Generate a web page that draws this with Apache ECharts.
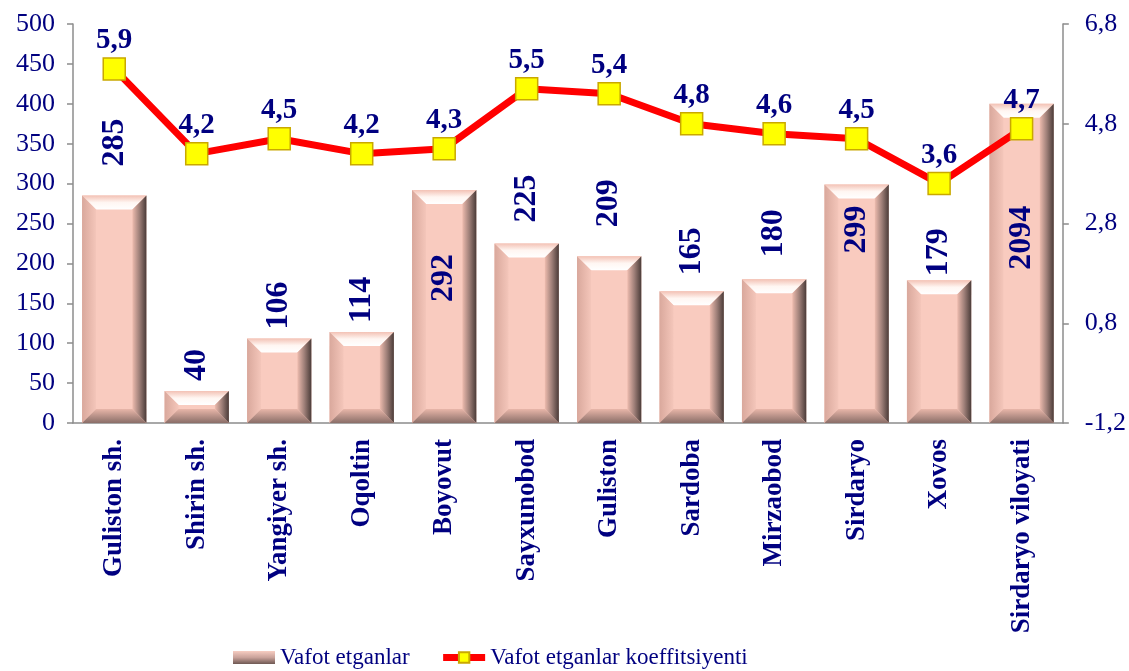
<!DOCTYPE html>
<html>
<head>
<meta charset="utf-8">
<script src="https://cdn.jsdelivr.net/npm/echarts@6/dist/echarts.min.js"></script>
<style>
  html, body { margin: 0; padding: 0; background: #fff; }
  #chart { width: 1129px; height: 671px; }
</style>
</head>
<body>
<div id="chart"></div>
<script>
    // data
    const categories = ['Guliston sh.', 'Shirin sh.', 'Yangiyer sh.', 'Oqoltin', 'Boyovut', 'Sayxunobod',
        'Guliston', 'Sardoba', 'Mirzaobod', 'Sirdaryo', 'Xovos', 'Sirdaryo viloyati'];
    // printed labels
    const deaths = [285, 40, 106, 114, 292, 225, 209, 165, 180, 299, 179, 2094];
    // heights the bars are drawn at (last one is drawn at 400 in the source)
    const barHeights = [285, 40, 106, 114, 292, 225, 209, 165, 180, 299, 179, 400];
    const coef = [5.9, 4.2, 4.5, 4.2, 4.3, 5.5, 5.4, 4.8, 4.6, 4.5, 3.6, 4.7];
    const leftTicks = {min: 0, max: 500, interval: 50};
    const rightTicks = {min: -1.2, max: 6.8, interval: 2};

    const NAVY = '#000080';
    const FONT = "'Liberation Serif', 'Times New Roman', serif";

    // where each bar label sits: [inside?, distance]
    const labelPlace = [[false, 29], [false, 10], [false, 9], [false, 9], [true, 64], [false, 21],
        [false, 29], [false, 16], [false, 22], [true, 21], [false, 4], [true, 102]];

    const comma = v => Number(v).toFixed(1).replace('.', ',');
    const lg = (x2, y2, stops) => new echarts.graphic.LinearGradient(0, 0, x2, y2,
        stops.map((c, i) => ({offset: i / (stops.length - 1), color: c})));

    function renderBar(params, api) {
        const top = api.coord([api.value(0), api.value(1)]);
        const base = api.coord([api.value(0), 0]);
        const w = api.size([1, 0])[0] * 0.78;
        const x0 = top[0] - w / 2, x1 = top[0] + w / 2, y0 = top[1], y1 = base[1];
        const b = Math.min(14, (y1 - y0) / 2, w / 2);
        return {
            type: 'group',
            children: [
                {type: 'rect', shape: {x: x0, y: y0, width: w, height: y1 - y0}, style: {fill: '#F9CBBF'}},
                {type: 'polygon', shape: {points: [[x0, y0], [x1, y0], [x1 - b, y0 + b], [x0 + b, y0 + b]]},
                    style: {fill: lg(0, 1, ['#F3C2B5', '#FFF6F2', '#FFFFFF'])}},
                {type: 'polygon', shape: {points: [[x0, y0], [x0 + b, y0 + b], [x0 + b, y1 - b], [x0, y1]]},
                    style: {fill: lg(1, 0, ['#D9A89C', '#F4C6BA'])}},
                {type: 'polygon', shape: {points: [[x1, y0], [x1, y1], [x1 - b, y1 - b], [x1 - b, y0 + b]]},
                    style: {fill: lg(1, 0, ['#EDBBAE', '#9E7F78', '#4A3B38'])}},
                {type: 'polygon', shape: {points: [[x0, y1], [x0 + b, y1 - b], [x1 - b, y1 - b], [x1, y1]]},
                    style: {fill: lg(0, 1, ['#E8B6A9', '#8A6E68'])}}
            ]
        };
    }

    const barData = barHeights.map((v, i) => {
        const inside = labelPlace[i][0];
        return {
            value: v,
            label: {
                position: inside ? 'insideTop' : 'top',
                distance: labelPlace[i][1],
                align: inside ? 'right' : 'left',
                verticalAlign: 'middle'
            }
        };
    });

    const option = {
        animation: false,
        textStyle: {fontFamily: FONT},
        grid: {left: 73, right: 65, top: 24, bottom: 248},
        legend: {
            left: 228, top: 641,
            itemWidth: 42, itemHeight: 13, itemGap: 30,
            textStyle: {color: NAVY, fontSize: 23, fontFamily: FONT},
            data: [
                {name: 'Vafot etganlar', icon: 'rect',
                    itemStyle: {color: lg(0, 1, ['#F7CDC2', '#C9A29A', '#6E5853'])}},
                {name: 'Vafot etganlar koeffitsiyenti',
                    lineStyle: {color: '#FF0000', width: 7}}
            ]
        },
        xAxis: {
            type: 'category',
            data: categories,
            axisLine: {lineStyle: {color: '#8c8c8c', width: 1.5}},
            axisTick: {length: 7, lineStyle: {color: '#8c8c8c', width: 1.5}},
            axisLabel: {
                rotate: 90, interval: 0, margin: 16,
                color: NAVY, fontSize: 27, fontWeight: 'bold', fontFamily: FONT
            }
        },
        yAxis: [
            {
                type: 'value', min: leftTicks.min, max: leftTicks.max, interval: leftTicks.interval,
                splitLine: {show: false},
                axisLine: {show: true, lineStyle: {color: '#8c8c8c', width: 1.5}},
                axisTick: {show: true, length: 6, lineStyle: {color: '#8c8c8c', width: 1.5}},
                axisLabel: {margin: 18, color: NAVY, fontSize: 26, fontFamily: FONT}
            },
            {
                type: 'value', min: rightTicks.min, max: rightTicks.max, interval: rightTicks.interval,
                position: 'right',
                splitLine: {show: false},
                axisLine: {show: true, lineStyle: {color: '#8c8c8c', width: 1.5}},
                axisTick: {show: true, length: 6, lineStyle: {color: '#8c8c8c', width: 1.5}},
                axisLabel: {margin: 22, color: NAVY, fontSize: 26, fontFamily: FONT, formatter: comma}
            }
        ],
        series: [
            {
                name: 'bevel',
                type: 'custom',
                z: 1,
                silent: true,
                renderItem: renderBar,
                data: barHeights.map((v, i) => [i, v])
            },
            {
                name: 'Vafot etganlar',
                type: 'bar',
                z: 2,
                barCategoryGap: '22%',
                itemStyle: {color: 'rgba(0,0,0,0)'},
                label: {
                    show: true, rotate: 90,
                    color: NAVY, fontSize: 32, fontWeight: 'bold', fontFamily: FONT,
                    formatter: p => String(deaths[p.dataIndex])
                },
                data: barData
            },
            {
                name: 'Vafot etganlar koeffitsiyenti',
                type: 'line',
                z: 3,
                yAxisIndex: 1,
                symbol: 'rect',
                symbolSize: 22,
                lineStyle: {color: '#FF0000', width: 7},
                itemStyle: {color: '#FFFF00', borderColor: '#C9A800', borderWidth: 1.5},
                label: {
                    show: true, position: 'top', distance: 2,
                    color: NAVY, fontSize: 29, fontWeight: 'bold', fontFamily: FONT,
                    formatter: p => comma(p.value)
                },
                data: coef
            }
        ]
    };

    echarts.init(document.getElementById('chart')).setOption(option);
</script>
</body>
</html>
